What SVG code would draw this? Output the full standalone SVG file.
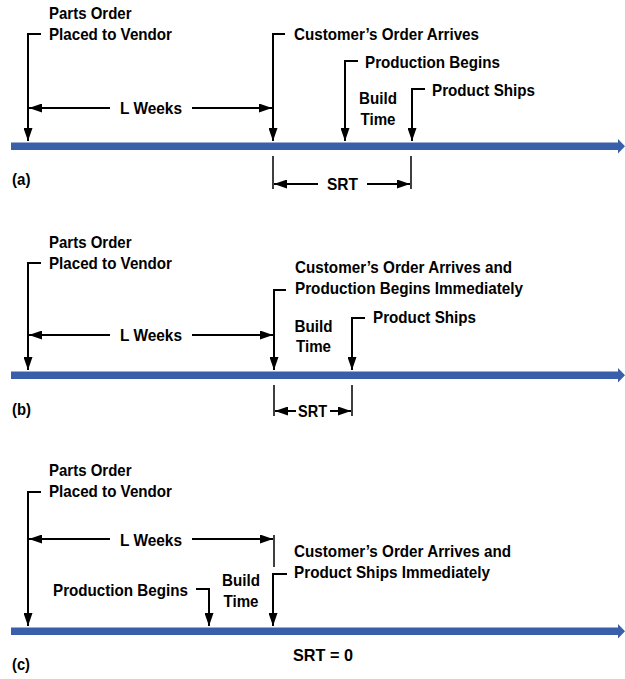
<svg xmlns="http://www.w3.org/2000/svg" width="625" height="679" viewBox="0 0 625 679">
<defs>
<marker id="ah" markerUnits="userSpaceOnUse" markerWidth="14" markerHeight="9" refX="13" refY="4.5" orient="auto">
<path d="M0,0 L13,4.5 L0,9 Z" fill="#000"/>
</marker>
<style>
text{font-family:"Liberation Sans",Arial,sans-serif;font-weight:bold;font-size:16.5px;fill:#000}
.c{stroke:#000;stroke-width:2;fill:none}
.t{stroke:#000;stroke-width:1.5;fill:none}
.m{text-anchor:middle}
.bar{fill:#3A5FAA}
</style>
</defs>
<rect width="625" height="679" fill="#fff"/>

<!-- Panel (a) -->
<g id="timeline-a">
<rect class="bar" x="11" y="142.5" width="609" height="7.5"/>
<polygon class="bar" points="618,139 625,146.25 618,153.5"/>
<text x="12" y="185" textLength="18.5" lengthAdjust="spacingAndGlyphs">(a)</text>
</g>
<g id="a-parts"><text x="49" y="19" textLength="82.5" lengthAdjust="spacingAndGlyphs">Parts Order</text><text x="49" y="40" textLength="123" lengthAdjust="spacingAndGlyphs">Placed to Vendor</text></g>
<g id="a-customer"><text x="294" y="40" textLength="185" lengthAdjust="spacingAndGlyphs">Customer’s Order Arrives</text></g>
<g id="a-production"><text x="365" y="68" textLength="135" lengthAdjust="spacingAndGlyphs">Production Begins</text></g>
<g id="a-build"><text class="m" x="378" y="104" textLength="38" lengthAdjust="spacingAndGlyphs">Build</text><text class="m" x="378" y="125" textLength="35" lengthAdjust="spacingAndGlyphs">Time</text></g>
<g id="a-ships"><text x="432" y="96" textLength="103" lengthAdjust="spacingAndGlyphs">Product Ships</text></g>
<g id="a-lweeks"><text x="120" y="114" textLength="62" lengthAdjust="spacingAndGlyphs">L Weeks</text></g>
<g id="a-srt"><text x="327" y="190" textLength="31" lengthAdjust="spacingAndGlyphs">SRT</text></g>

<!-- Panel (b) -->
<g id="timeline-b">
<rect class="bar" x="11" y="371.5" width="609" height="7.5"/>
<polygon class="bar" points="618,368 625,375.25 618,382.5"/>
<text x="12" y="415" textLength="19" lengthAdjust="spacingAndGlyphs">(b)</text>
</g>
<g id="b-parts"><text x="49" y="248" textLength="82.5" lengthAdjust="spacingAndGlyphs">Parts Order</text><text x="49" y="269" textLength="123" lengthAdjust="spacingAndGlyphs">Placed to Vendor</text></g>
<g id="b-customer"><text x="295" y="273" textLength="217" lengthAdjust="spacingAndGlyphs">Customer’s Order Arrives and</text><text x="295" y="294" textLength="228" lengthAdjust="spacingAndGlyphs">Production Begins Immediately</text></g>
<g id="b-build"><text class="m" x="313.5" y="332" textLength="38" lengthAdjust="spacingAndGlyphs">Build</text><text class="m" x="313.5" y="352" textLength="35" lengthAdjust="spacingAndGlyphs">Time</text></g>
<g id="b-ships"><text x="373" y="323" textLength="103" lengthAdjust="spacingAndGlyphs">Product Ships</text></g>
<g id="b-lweeks"><text x="120" y="341" textLength="62" lengthAdjust="spacingAndGlyphs">L Weeks</text></g>
<g id="b-srt"><text x="298" y="417" textLength="29" lengthAdjust="spacingAndGlyphs">SRT</text></g>

<!-- Panel (c) -->
<g id="timeline-c">
<rect class="bar" x="11" y="627.5" width="609" height="7.5"/>
<polygon class="bar" points="618,624 625,631.25 618,638.5"/>
<text x="12" y="670" textLength="18" lengthAdjust="spacingAndGlyphs">(c)</text>
</g>
<g id="c-parts"><text x="49" y="476" textLength="82.5" lengthAdjust="spacingAndGlyphs">Parts Order</text><text x="49" y="497" textLength="123" lengthAdjust="spacingAndGlyphs">Placed to Vendor</text></g>
<g id="c-lweeks"><text x="120" y="546" textLength="62" lengthAdjust="spacingAndGlyphs">L Weeks</text></g>
<g id="c-production"><text x="53" y="596" textLength="135" lengthAdjust="spacingAndGlyphs">Production Begins</text></g>
<g id="c-build"><text class="m" x="241" y="586" textLength="38" lengthAdjust="spacingAndGlyphs">Build</text><text class="m" x="241" y="607" textLength="35" lengthAdjust="spacingAndGlyphs">Time</text></g>
<g id="c-customer"><text x="294" y="557" textLength="217" lengthAdjust="spacingAndGlyphs">Customer’s Order Arrives and</text><text x="294" y="578" textLength="196" lengthAdjust="spacingAndGlyphs">Product Ships Immediately</text></g>
<g id="c-srt"><text x="293" y="661" textLength="60" lengthAdjust="spacingAndGlyphs">SRT = 0</text></g>

<g id="connectors">
<!-- (a) -->
<path class="c" d="M41,34 H28 V141" marker-end="url(#ah)"/>
<path class="c" d="M285,34 H273 V141" marker-end="url(#ah)"/>
<path class="c" d="M358,61 H345 V141" marker-end="url(#ah)"/>
<path class="c" d="M425,89 H412 V141" marker-end="url(#ah)"/>
<path class="c" d="M110,108 H29" marker-end="url(#ah)"/>
<path class="c" d="M192,108 H272" marker-end="url(#ah)"/>
<path class="t" d="M273,156 V189 M411,156 V189"/>
<path class="c" d="M318,184 H274" marker-end="url(#ah)"/>
<path class="c" d="M367,184 H410" marker-end="url(#ah)"/>
<!-- (b) -->
<path class="c" d="M41,263 H28 V370" marker-end="url(#ah)"/>
<path class="c" d="M286,290 H274 V370" marker-end="url(#ah)"/>
<path class="c" d="M365,318 H352 V370" marker-end="url(#ah)"/>
<path class="c" d="M110,335 H29" marker-end="url(#ah)"/>
<path class="c" d="M192,335 H273" marker-end="url(#ah)"/>
<path class="t" d="M274,385 V416 M352,385 V416"/>
<path class="c" d="M296,411 H275" marker-end="url(#ah)"/>
<path class="c" d="M330,411 H351" marker-end="url(#ah)"/>
<!-- (c) -->
<path class="c" d="M41,492 H28 V626" marker-end="url(#ah)"/>
<path class="c" d="M110,539 H29" marker-end="url(#ah)"/>
<path class="c" d="M192,539 H273" marker-end="url(#ah)"/>
<path class="t" d="M274,535 V567"/>
<path class="c" d="M196,589 H209 V626" marker-end="url(#ah)"/>
<path class="c" d="M287,574 H273 V626" marker-end="url(#ah)"/>
</g>
</svg>
